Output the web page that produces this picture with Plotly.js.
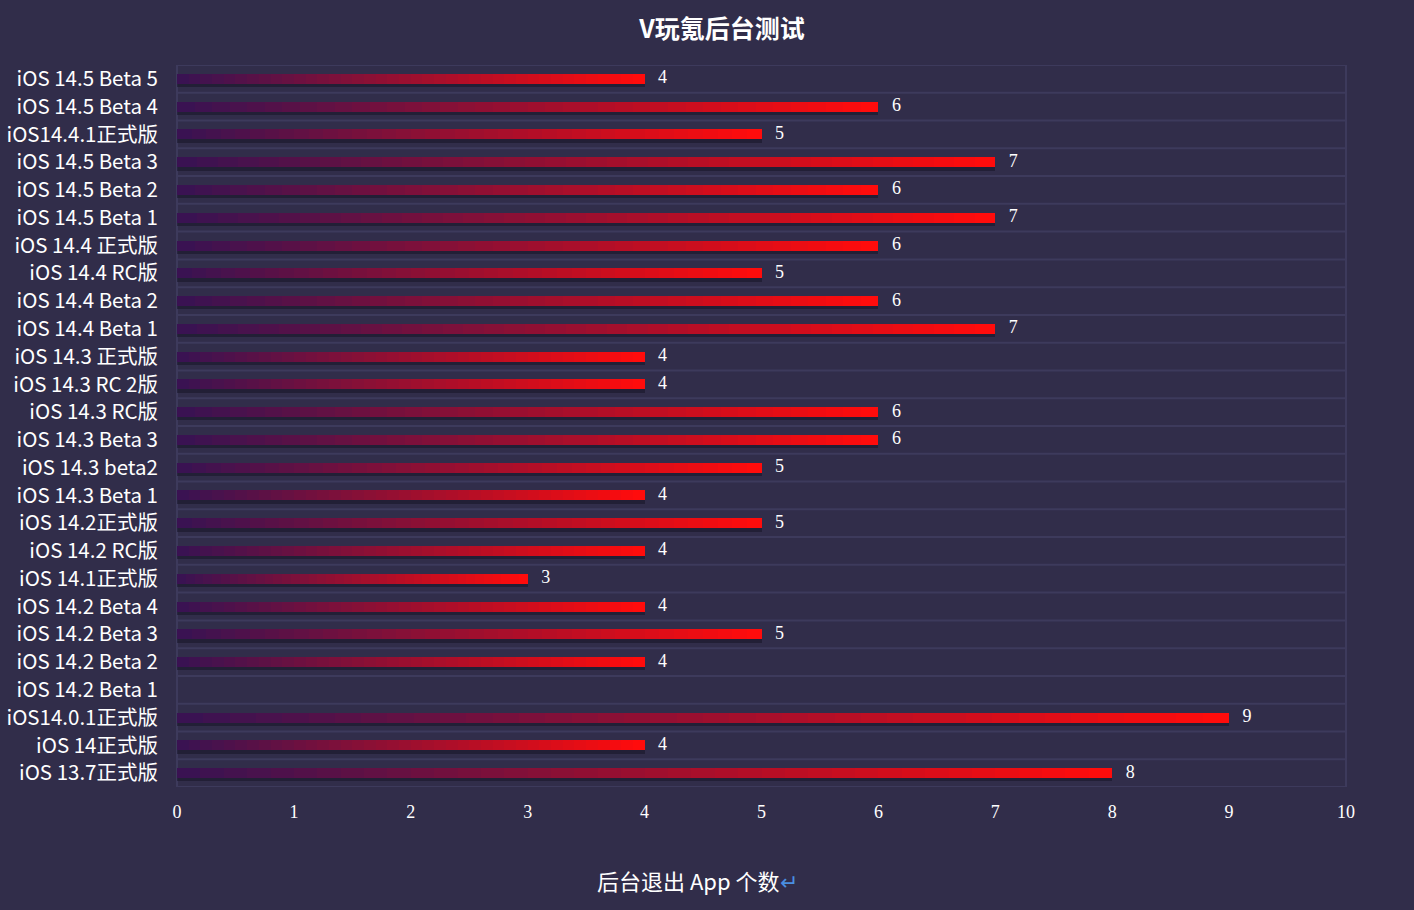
<!DOCTYPE html>
<html>
<head>
<meta charset="utf-8">
<script src="https://cdn.plot.ly/plotly-3.0.1.min.js"></script>
<style>
html,body{margin:0;padding:0;background:#312d4a;}
#chart{width:1414px;height:910px;}
</style>
</head>
<body>
<div id="chart"></div>
<script>
const categories = [
  "iOS 14.5 Beta 5","iOS 14.5 Beta 4","iOS14.4.1正式版","iOS 14.5 Beta 3","iOS 14.5 Beta 2",
  "iOS 14.5 Beta 1","iOS 14.4 正式版","iOS 14.4 RC版","iOS 14.4 Beta 2","iOS 14.4 Beta 1",
  "iOS 14.3 正式版","iOS 14.3 RC 2版","iOS 14.3 RC版","iOS 14.3 Beta 3","iOS 14.3 beta2",
  "iOS 14.3 Beta 1","iOS 14.2正式版","iOS 14.2 RC版","iOS 14.1正式版","iOS 14.2 Beta 4",
  "iOS 14.2 Beta 3","iOS 14.2 Beta 2","iOS 14.2 Beta 1","iOS14.0.1正式版","iOS 14正式版","iOS 13.7正式版"
];
const exitCounts = [4,6,5,7,6,7,6,5,6,7,4,4,6,6,5,4,5,4,3,4,5,4,null,9,4,8];
const xTickValues = [0,1,2,3,4,5,6,7,8,9,10];
const chartTitle = "V玩氪后台测试";
const xTitle = '后台退出 App 个数<span style="color:#4a8fe0">↵</span>';

const BG = '#312d4a', GRID = '#3d3a5c';
const startColor = [58,18,82], endColor = [255,12,12];
const N = 40;
const BAR_W = 0.36;

const traces = [];
// shadow
traces.push({
  type:'bar', orientation:'h', y:categories, x:exitCounts,
  width:BAR_W, offset:-BAR_W/2 + 0.12,
  marker:{color:'rgba(22,20,38,0.55)'}, hoverinfo:'skip', showlegend:false
});
// gradient bars via overlaid segments (longest first)
for (let k = 0; k < N; k++) {
  const frac = (N - k) / N;
  const t = (N - k - 1) / (N - 1);
  const c = startColor.map((s,i)=>Math.round(s + (endColor[i]-s)*t));
  traces.push({
    type:'bar', orientation:'h', y:categories,
    x:exitCounts.map(v => v == null ? null : v*frac),
    width:BAR_W,
    marker:{color:`rgb(${c[0]},${c[1]},${c[2]})`, line:{width:0}},
    hoverinfo:'skip', showlegend:false
  });
}
// value labels
traces.push({
  type:'scatter', mode:'text', y:categories, x:exitCounts,
  text:exitCounts.map(v => v == null ? '' : '\u2002 ' + v),
  textposition:'middle right',
  textfont:{family:'"Liberation Serif", serif', size:18, color:'#ffffff'},
  hoverinfo:'skip', showlegend:false, cliponaxis:false
});

const shapes = [];
for (let i = 0; i <= categories.length; i++) {
  shapes.push({type:'line', xref:'paper', x0:0, x1:1, yref:'y', y0:i-0.5, y1:i-0.5,
    line:{color:GRID, width:2}, layer:'below'});
}
shapes.push({type:'line', xref:'paper', x0:0, x1:0, yref:'paper', y0:0, y1:1, line:{color:GRID, width:2}, layer:'below'});
shapes.push({type:'line', xref:'paper', x0:1, x1:1, yref:'paper', y0:0, y1:1, line:{color:GRID, width:2}, layer:'below'});

const layout = {
  width:1414, height:910,
  paper_bgcolor:BG, plot_bgcolor:BG,
  margin:{l:177, r:68, t:65, b:123},
  barmode:'overlay',
  bargap:0,
  showlegend:false,
  title:{text:'<b>'+chartTitle+'</b>', x:722/1414, xanchor:'center', xref:'container',
    y:1-29/910, yanchor:'middle', yref:'container',
    font:{family:'"Noto Sans CJK SC", sans-serif', size:25, color:'#ffffff'}},
  xaxis:{
    range:[0,10], tickvals:xTickValues, showgrid:false, zeroline:false, showline:false,
    ticks:'', ticklabelstandoff:12,
    tickfont:{family:'"Liberation Serif", serif', size:18, color:'#ffffff'},
    fixedrange:true
  },
  yaxis:{
    type:'category', categoryorder:'array', categoryarray:categories,
    range:[categories.length-0.5, -0.5], autorange:false,
    showgrid:false, zeroline:false, showline:false, ticks:'', ticklabelstandoff:18,
    tickfont:{family:'"Noto Sans CJK SC", sans-serif', size:20.5, color:'#ffffff'},
    fixedrange:true
  },
  annotations:[{
    text:xTitle, xref:'paper', x:(697-177)/1169, xanchor:'center',
    yref:'paper', y:-(880-787)/722, yanchor:'middle', showarrow:false,
    font:{family:'"Noto Sans CJK SC", sans-serif', size:22, color:'#ffffff'}
  }],
  shapes:shapes
};

Plotly.newPlot('chart', traces, layout, {displayModeBar:false, staticPlot:true});
</script>
</body>
</html>
